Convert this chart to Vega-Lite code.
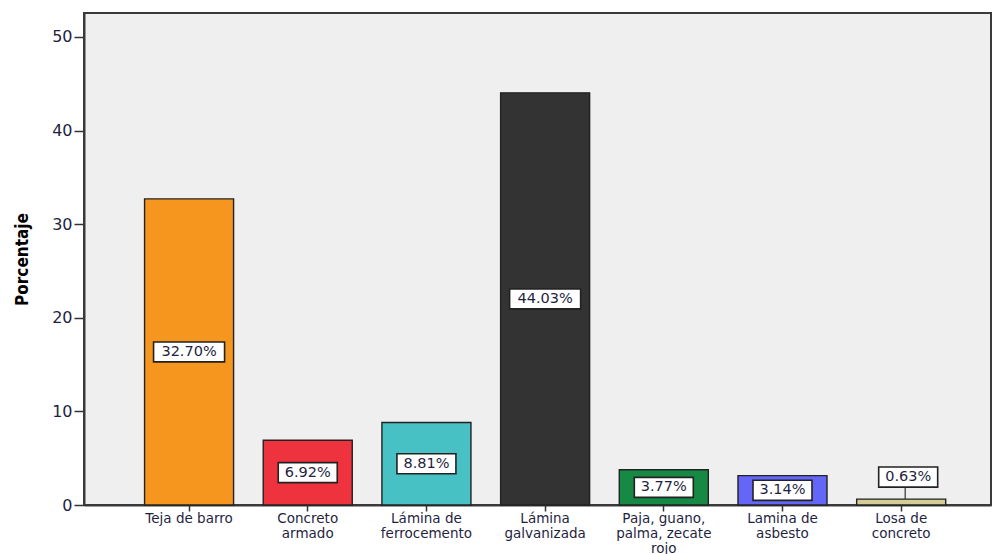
{
  "$schema": "https://vega.github.io/schema/vega-lite/v6.json",
  "width": 907,
  "height": 492,
  "autosize": {"type": "none"},
  "padding": {"left": 84, "top": 13, "right": 1, "bottom": 49},
  "background": "white",
  "view": {"fill": "#efefef", "stroke": "#3a3a3a", "strokeWidth": 2},
  "data": {
    "values": [
      {"material": "Teja de barro", "pct": 32.70},
      {"material": "Concreto armado", "pct": 6.92},
      {"material": "Lámina de ferrocemento", "pct": 8.81},
      {"material": "Lámina galvanizada", "pct": 44.03},
      {"material": "Paja, guano, palma, zecate rojo", "pct": 3.77},
      {"material": "Lamina de asbesto", "pct": 3.14},
      {"material": "Losa de concreto", "pct": 0.63}
    ]
  },
  "transform": [
    {"calculate": "format(datum.pct, '.2f') + '%'", "as": "lab"},
    {"calculate": "datum.pct / 2", "as": "mid"}
  ],
  "encoding": {
    "x": {
      "field": "material",
      "type": "nominal",
      "sort": null,
      "scale": {"paddingInner": 0.25, "paddingOuter": 0.446, "align": 0.572},
      "axis": {
        "title": null,
        "labelAngle": 0,
        "labelFont": "DejaVu Sans",
        "labelFontSize": 13.5,
        "labelColor": "#1f1f3f",
        "labelPadding": 0,
        "labelLineHeight": 15,
        "labelBaseline": "top",
        "tickSize": 6,
        "tickColor": "#333333",
        "tickWidth": 1.5,
        "domainColor": "#3a3a3a",
        "domainWidth": 2,
        "labelExpr": "datum.label == 'Concreto armado' ? ['Concreto', 'armado'] : datum.label == 'Lámina de ferrocemento' ? ['Lámina de', 'ferrocemento'] : datum.label == 'Lámina galvanizada' ? ['Lámina', 'galvanizada'] : datum.label == 'Paja, guano, palma, zecate rojo' ? ['Paja, guano,', 'palma, zecate', 'rojo'] : datum.label == 'Lamina de asbesto' ? ['Lamina de', 'asbesto'] : datum.label == 'Losa de concreto' ? ['Losa de', 'concreto'] : datum.label"
      }
    }
  },
  "layer": [
    {
      "mark": {"type": "bar", "stroke": "#222222", "strokeWidth": 1.4},
      "encoding": {
        "y": {
          "field": "pct",
          "type": "quantitative",
          "scale": {"domain": [0, 52.56], "nice": false},
          "axis": {
            "values": [0, 10, 20, 30, 40, 50],
            "grid": false,
            "title": "Porcentaje",
            "titleFont": "DejaVu Sans Condensed",
            "titleFontSize": 17,
            "titleFontWeight": "bold",
            "titleColor": "black",
            "titlePadding": 20,
            "labelFont": "DejaVu Sans",
            "labelFontSize": 16,
            "labelColor": "#1f1f3f",
            "labelPadding": 2,
            "tickSize": 10,
            "tickColor": "#333333",
            "tickWidth": 1.5,
            "domainColor": "#3a3a3a",
            "domainWidth": 2
          }
        },
        "color": {
          "field": "material",
          "type": "nominal",
          "legend": null,
          "scale": {
            "domain": ["Teja de barro", "Concreto armado", "Lámina de ferrocemento", "Lámina galvanizada", "Paja, guano, palma, zecate rojo", "Lamina de asbesto", "Losa de concreto"],
            "range": ["#f7961e", "#ee323e", "#48c1c4", "#333333", "#168a45", "#6466f8", "#d6cc96"]
          }
        }
      }
    },
    {
      "transform": [{"filter": "datum.pct < 1"}],
      "mark": {"type": "rule", "stroke": "#333333", "strokeWidth": 1.2, "xOffset": 4},
      "encoding": {
        "y": {"field": "pct", "type": "quantitative"},
        "y2": {"datum": 1.9}
      }
    },
    {
      "transform": [{"filter": "datum.pct >= 1 && length(datum.lab) > 5"}],
      "mark": {"type": "point", "shape": "M-1,-0.28H1V0.28H-1Z", "size": 5041, "filled": true, "fill": "white", "stroke": "#222222", "strokeWidth": 1.6, "opacity": 1},
      "encoding": {"y": {"field": "mid", "type": "quantitative"}}
    },
    {
      "transform": [{"filter": "datum.pct >= 1 && length(datum.lab) <= 5"}],
      "mark": {"type": "point", "shape": "M-1,-0.34H1V0.34H-1Z", "size": 3481, "filled": true, "fill": "white", "stroke": "#222222", "strokeWidth": 1.6, "opacity": 1},
      "encoding": {"y": {"field": "mid", "type": "quantitative"}}
    },
    {
      "transform": [{"filter": "datum.pct < 1"}],
      "mark": {"type": "point", "shape": "M-1,-0.34H1V0.34H-1Z", "size": 3481, "filled": true, "fill": "white", "stroke": "#222222", "strokeWidth": 1.6, "opacity": 1, "xOffset": 7, "yOffset": -22},
      "encoding": {"y": {"field": "pct", "type": "quantitative"}}
    },
    {
      "transform": [{"filter": "datum.pct >= 1"}],
      "mark": {"type": "text", "font": "DejaVu Sans", "fontSize": 14.5, "color": "#1f1f3f", "baseline": "middle", "align": "center"},
      "encoding": {
        "y": {"field": "mid", "type": "quantitative"},
        "text": {"field": "lab"}
      }
    },
    {
      "transform": [{"filter": "datum.pct < 1"}],
      "mark": {"type": "text", "font": "DejaVu Sans", "fontSize": 14.5, "color": "#1f1f3f", "baseline": "middle", "align": "center", "xOffset": 7, "yOffset": -22},
      "encoding": {
        "y": {"field": "pct", "type": "quantitative"},
        "text": {"field": "lab"}
      }
    }
  ]
}
